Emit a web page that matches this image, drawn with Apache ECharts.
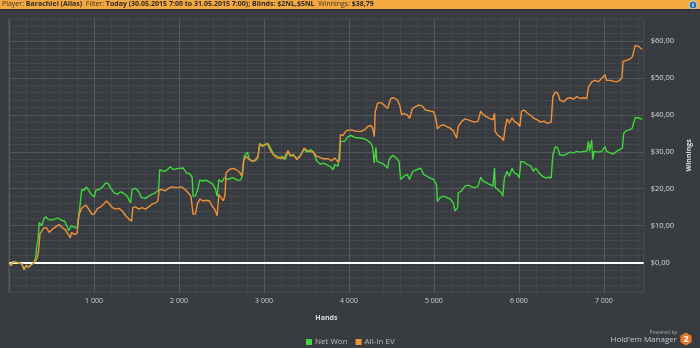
<!DOCTYPE html>
<html>
<head>
<meta charset="utf-8">
<script src="https://cdn.jsdelivr.net/npm/echarts@6/dist/echarts.min.js"></script>
<style>
html,body{margin:0;padding:0;background:#383b3f;}
#chart{width:700px;height:348px;}
</style>
</head>
<body>
<div id="chart"></div>
<script>
// ---- data (hands, $) ----
const netWon = [
[0,0],[27,-0.8],[47,0.3],[93,0.1],[151,-0.3],[178,-1.9],[201,-0.7],[228,-1.2],[267,-0.5],[294,0],[314,1.5],[326,4.2],[341,6.0],[356,10.9],[384,10.0],[410,11.8],[434,12.4],[460,11.7],[500,11.5],[538,11.8],[577,12.1],[616,11.5],[655,11.2],[674,10.3],[701,8.7],[721,8.2],[736,10.0],[771,9.5],[802,9.5],[821,12.7],[844,17.2],[856,19.8],[887,19.6],[907,20.5],[937,19.6],[965,18.5],[1004,17.8],[1023,19.6],[1062,19.8],[1100,20.5],[1140,21.6],[1170,21.3],[1198,20.1],[1236,18.9],[1274,18.5],[1314,19.2],[1352,18.7],[1391,18.0],[1430,16.2],[1449,19.8],[1488,20.1],[1527,19.2],[1558,17.6],[1605,17.4],[1643,18.0],[1681,18.5],[1721,18.9],[1759,19.6],[1774,25.2],[1817,24.7],[1856,25.0],[1895,25.9],[1934,25.2],[1992,25.5],[2050,25.6],[2088,24.3],[2128,24.0],[2155,23.1],[2166,18.0],[2193,18.0],[2224,20.1],[2244,22.3],[2283,22.1],[2321,22.3],[2360,21.8],[2399,21.2],[2426,20.1],[2449,18.0],[2469,22.5],[2504,21.8],[2535,23.1],[2573,22.5],[2631,23.0],[2690,22.3],[2728,22.4],[2748,23.9],[2767,28.8],[2806,29.9],[2826,28.1],[2864,27.4],[2902,27.6],[2930,28.5],[2949,32.3],[2980,31.4],[3019,31.9],[3047,32.3],[3077,31.0],[3116,29.2],[3155,28.8],[3193,28.1],[3213,28.8],[3251,27.9],[3283,30.1],[3309,28.8],[3349,29.0],[3387,28.1],[3426,29.0],[3472,30.6],[3512,29.9],[3550,30.6],[3581,29.9],[3620,27.6],[3658,26.7],[3698,26.9],[3736,26.5],[3774,26.1],[3814,25.2],[3833,26.5],[3872,26.1],[3891,26.3],[3899,32.8],[3949,32.8],[3988,34.1],[4027,34.4],[4065,33.9],[4124,33.7],[4181,33.5],[4221,33.0],[4259,32.3],[4279,31.2],[4298,27.0],[4317,31.2],[4329,27.4],[4376,27.0],[4415,26.5],[4454,25.5],[4472,27.9],[4512,29.0],[4550,28.5],[4589,27.4],[4608,22.5],[4647,23.4],[4686,23.9],[4713,22.5],[4751,24.7],[4802,25.2],[4841,25.6],[4879,23.9],[4937,23.1],[4995,22.5],[5030,21.2],[5040,16.5],[5073,17.6],[5112,18.0],[5151,17.6],[5190,17.2],[5228,16.2],[5248,14.0],[5267,13.6],[5279,14.9],[5286,18.9],[5326,19.4],[5364,20.7],[5403,21.0],[5442,20.5],[5480,20.3],[5519,20.7],[5550,23.1],[5577,22.1],[5616,21.6],[5654,21.2],[5693,20.7],[5713,25.6],[5721,20.3],[5751,19.8],[5791,18.9],[5810,18.0],[5829,22.9],[5861,24.7],[5887,23.4],[5918,25.5],[5945,24.3],[5984,23.9],[6003,22.9],[6023,27.4],[6061,27.2],[6100,26.5],[6140,26.1],[6170,24.7],[6198,25.6],[6236,24.3],[6275,23.4],[6314,22.9],[6352,23.1],[6379,22.9],[6399,29.2],[6430,31.4],[6457,31.0],[6480,29.2],[6527,29.0],[6565,29.4],[6605,29.9],[6643,29.7],[6682,30.1],[6721,29.9],[6760,30.1],[6798,30.2],[6818,32.8],[6830,30.1],[6856,33.2],[6868,27.9],[6884,30.1],[6934,29.9],[6973,30.1],[7012,31.4],[7031,30.1],[7070,29.7],[7109,29.4],[7147,30.1],[7186,30.6],[7217,31.0],[7233,35.0],[7263,35.7],[7302,35.9],[7333,36.4],[7349,37.7],[7367,39.2],[7399,39.2],[7419,38.9],[7449,38.79]
];
const allInEV = [
[0,0],[27,-0.8],[47,0.3],[93,0.1],[151,-0.3],[178,-1.9],[201,-0.7],[228,-1.2],[267,-0.5],[294,0],[317,0.6],[333,1.5],[349,3.3],[364,7.8],[384,8.2],[410,9.4],[442,9.5],[472,8.2],[512,9.1],[550,9.7],[588,10.3],[628,9.5],[666,8.8],[693,7.8],[721,6.7],[736,8.2],[771,7.6],[802,8.0],[821,12.7],[849,14.5],[876,15.1],[907,15.6],[937,14.5],[977,13.1],[1004,13.2],[1042,14.7],[1081,15.1],[1120,16.0],[1147,16.7],[1178,16.0],[1216,14.9],[1256,14.5],[1294,14.7],[1333,14.0],[1372,12.7],[1411,11.8],[1442,11.2],[1457,14.9],[1488,15.1],[1527,14.5],[1565,14.9],[1605,14.5],[1643,15.1],[1681,15.8],[1721,16.2],[1751,16.7],[1767,19.6],[1798,19.8],[1837,19.4],[1876,20.1],[1914,20.5],[1972,20.3],[2030,20.5],[2070,19.8],[2108,18.9],[2140,18.0],[2166,13.1],[2193,13.2],[2216,15.8],[2244,17.2],[2283,16.7],[2321,16.9],[2360,16.7],[2387,15.4],[2419,14.5],[2449,12.7],[2469,18.5],[2495,17.6],[2523,16.7],[2542,18.5],[2554,24.3],[2593,25.2],[2631,25.5],[2670,25.2],[2709,24.6],[2740,23.4],[2759,27.4],[2786,28.8],[2826,27.9],[2864,27.4],[2902,27.9],[2930,28.8],[2949,31.9],[3000,31.8],[3038,32.3],[3070,30.6],[3116,29.0],[3155,28.3],[3193,28.5],[3233,28.1],[3283,30.3],[3309,29.0],[3349,29.2],[3387,27.9],[3426,28.8],[3472,31.0],[3523,30.1],[3581,29.9],[3620,28.8],[3658,28.5],[3698,28.1],[3756,28.1],[3794,27.6],[3833,28.3],[3872,27.2],[3891,27.9],[3899,34.6],[3930,34.4],[3969,35.7],[4027,35.9],[4085,35.5],[4143,35.5],[4181,35.9],[4221,36.8],[4259,37.1],[4279,36.4],[4298,34.1],[4309,40.8],[4337,43.1],[4376,43.3],[4415,42.6],[4454,41.7],[4492,44.4],[4530,44.6],[4570,44.0],[4597,42.6],[4620,40.0],[4647,40.4],[4686,40.0],[4713,39.0],[4744,41.6],[4782,42.2],[4821,42.6],[4860,42.4],[4899,41.3],[4957,41.0],[4995,40.8],[5023,39.0],[5040,36.2],[5073,37.0],[5112,37.3],[5151,36.8],[5190,36.4],[5228,35.7],[5248,34.6],[5267,33.7],[5286,36.8],[5326,38.2],[5364,38.9],[5403,38.6],[5442,38.3],[5480,38.0],[5519,38.3],[5550,41.0],[5577,40.1],[5616,39.5],[5654,39.0],[5693,38.6],[5713,40.4],[5721,35.5],[5751,34.4],[5791,33.9],[5818,33.0],[5837,36.4],[5861,38.9],[5887,37.7],[5918,39.2],[5945,38.2],[5984,37.7],[6011,36.8],[6030,41.0],[6061,41.3],[6100,40.4],[6140,39.8],[6178,39.0],[6217,38.6],[6256,38.0],[6294,38.3],[6333,37.7],[6379,38.0],[6399,44.9],[6430,46.2],[6457,45.8],[6480,44.0],[6527,43.5],[6565,44.4],[6605,44.6],[6643,44.2],[6682,44.9],[6721,44.4],[6760,44.6],[6798,44.4],[6818,47.5],[6856,48.9],[6896,49.3],[6934,48.9],[6973,49.8],[7012,50.8],[7031,49.3],[7070,49.3],[7109,49.1],[7147,48.9],[7186,49.3],[7213,50.2],[7224,54.4],[7263,54.7],[7302,55.0],[7333,55.6],[7349,56.9],[7367,58.7],[7399,58.6],[7419,58.3],[7449,57.7]
];
const seriesNames = ['Net Won', 'All-In EV'];
const xTickLabels = ['1 000','2 000','3 000','4 000','5 000','6 000','7 000'];
const yTickLabels = ['$0,00','$10,00','$20,00','$30,00','$40,00','$50,00','$60,00'];
const xAxisTitle = 'Hands';
const yAxisTitle = 'Winnings';
const header = {player:'Barachiel (Alias)', filter:'Today (30.05.2015 7:00 to 31.05.2015 7:00); Blinds: $2NL,$5NL', winnings:'$38,79'};

const FONT = '"Open Sans", sans-serif';
const MINOR = '#44474b', MAJOR = '#56595d';
const chart = echarts.init(document.getElementById('chart'), null, {renderer:'canvas'});

chart.setOption({
  backgroundColor: '#383b3f',
  animation: false,
  textStyle: {fontFamily: FONT},
  grid: {left: 9, right: 49, top: 18.6, bottom: 55.7, show: true, borderColor: '#55585c', borderWidth: 1, containLabel: false},
  legend: {
    left: 301, top: 333, itemWidth: 6, itemHeight: 6, itemGap: 8, icon: 'rect',
    textStyle: {color: '#bdbdbd', fontSize: 8, fontFamily: FONT, padding: [0,0,0,-2]},
    data: seriesNames
  },
  xAxis: {
    type: 'value', min: 0, max: 7468, interval: 200,
    name: xAxisTitle, nameLocation: 'middle', nameGap: 22,
    nameTextStyle: {color: '#dddddd', fontSize: 7, fontWeight: 'bold', fontFamily: FONT},
    axisLine: {show: false}, axisTick: {show: false},
    axisLabel: {color: '#d0d0d0', fontSize: 7, margin: 5, fontFamily: FONT,
      formatter: v => (v > 0 && v % 1000 === 0) ? xTickLabels[v / 1000 - 1] : ''},
    splitLine: {show: true, lineStyle: {width: 1, color: [MAJOR, MINOR, MINOR, MINOR, MINOR]}}
  },
  yAxis: {
    type: 'value', position: 'right', min: -8, max: 66, interval: 2,
    name: yAxisTitle, nameLocation: 'middle', nameGap: 31, nameRotate: 90,
    nameTextStyle: {color: '#dddddd', fontSize: 7, fontWeight: 'bold', fontFamily: FONT},
    axisLine: {show: false}, axisTick: {show: false},
    axisLabel: {color: '#d8d8d8', fontSize: 7.5, margin: 7, fontFamily: FONT,
      formatter: v => (v >= 0 && v % 10 === 0) ? yTickLabels[v / 10] : ''},
    splitLine: {show: true, lineStyle: {width: 1, color: [MINOR, MINOR, MINOR, MINOR, MAJOR]}}
  },
  series: [
    {name: seriesNames[0], type: 'line', data: netWon, showSymbol: false, symbol: 'none',
     lineStyle: {color: '#3fd63f', width: 1.4}, itemStyle: {color: '#3fd63f'}, z: 3,
     markLine: {silent: true, symbol: 'none', label: {show: false},
       lineStyle: {color: '#ffffff', width: 2, type: 'solid'}, data: [{yAxis: 0}], z: 2}},
    {name: seriesNames[1], type: 'line', data: allInEV, showSymbol: false, symbol: 'none',
     lineStyle: {color: '#f0923a', width: 1.4}, itemStyle: {color: '#f0923a'}, z: 4}
  ],
  graphic: [
    {type: 'rect', left: 0, top: 0, z: 10, shape: {width: 700, height: 9}, style: {fill: '#f4a840'}},
    {type: 'rect', left: 0, top: 9, z: 10, shape: {width: 700, height: 1}, style: {fill: '#2c2e31'}},
    {type: 'text', left: 2, top: 0.5, z: 11, style: {
      text: '{n|Player: }{b|' + header.player + '}{n|  Filter: }{b|' + header.filter + '}{n|  Winnings: }{b|' + header.winnings + '}',
      rich: {n: {fontSize: 7, fill: '#3a3328', fontFamily: FONT}, b: {fontSize: 7, fill: '#2e2a22', fontWeight: 'bold', fontFamily: FONT}}
    }},
    {type: 'circle', z: 11, shape: {cx: 693, cy: 5, r: 4}, style: {fill: '#2f6db3', stroke: '#ffffff', lineWidth: 0.6}},
    {type: 'text', z: 12, x: 693, y: 5, style: {text: 'i', fill: '#ffffff', fontSize: 6, fontWeight: 'bold', align: 'center', verticalAlign: 'middle', fontFamily: FONT}},
    {type: 'text', z: 11, x: 677, y: 333, style: {text: 'Powered by', fill: '#a8a8a8', fontSize: 5, align: 'right', verticalAlign: 'middle', fontFamily: FONT}},
    {type: 'text', z: 11, x: 677, y: 340, style: {text: "Hold'em Manager", fill: '#c8c8c8', fontSize: 8, align: 'right', verticalAlign: 'middle', fontFamily: FONT}},
    {type: 'polygon', z: 11, shape: {points: [[686,332.5],[691.6,335.7],[691.6,342.3],[686,345.5],[680.4,342.3],[680.4,335.7]]}, style: {fill: '#e8792c'}},
    {type: 'text', z: 12, x: 686, y: 339.2, style: {text: '2', fill: '#ffffff', fontSize: 9, fontWeight: 'bold', align: 'center', verticalAlign: 'middle', fontFamily: FONT}}
  ]
});
</script>
</body>
</html>
